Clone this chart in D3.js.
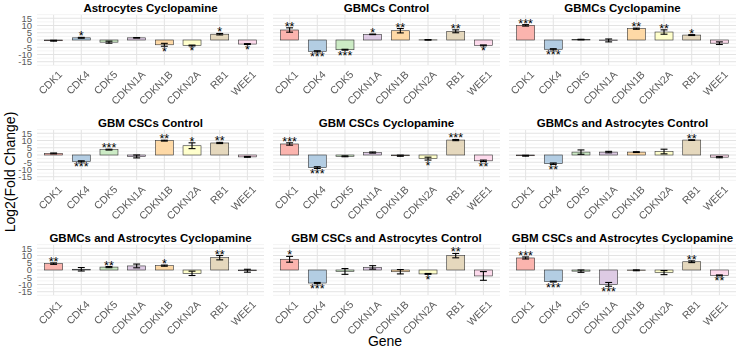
<!DOCTYPE html>
<html>
<head>
<meta charset="utf-8">
<script src="https://cdn.jsdelivr.net/npm/d3@7"></script>
<style>
  body { margin: 0; background: #fff; }
  text { font-family: "Liberation Sans", Arial, sans-serif; }
  .xlab { filter: grayscale(1); }
</style>
</head>
<body>
<div id="chart"></div>
<script>
const genes = ["CDK1", "CDK4", "CDK5", "CDKN1A", "CDKN1B", "CDKN2A", "RB1", "WEE1"];

const panelTitles = [
  "Astrocytes Cyclopamine", "GBMCs Control", "GBMCs Cyclopamine",
  "GBM CSCs Control", "GBM CSCs Cyclopamine", "GBMCs and Astrocytes Control",
  "GBMCs and Astrocytes Cyclopamine", "GBM CSCs and Astrocytes Control", "GBM CSCs and Astrocytes Cyclopamine"
];

// mean log2 fold change per panel, in gene order
const meanValues = [
  [-0.5, 1.5, -1.5, 1.5, -3.3, -3.8, 4.0, -2.8],
  [6.9, -7.8, -6.7, 3.9, 6.4, 0.1, 6.0, -3.7],
  [10.1, -6.4, 0.3, -0.3, 7.8, 5.5, 3.4, -2.2],
  [1.1, -4.4, 3.7, -1.0, 9.9, 6.4, 8.3, -1.3],
  [7.6, -8.7, -0.9, 1.7, -0.5, -2.5, 10.3, -4.0],
  [-0.5, -6.0, 2.0, 2.0, 2.0, 2.4, 10.3, -1.5],
  [4.4, 0.5, 2.0, 2.8, 3.0, -2.3, 8.5, -0.5],
  [7.4, -9.0, -1.0, 1.8, -1.2, -2.7, 9.9, -4.1],
  [8.3, -8.0, -0.8, -9.9, -0.2, -1.8, 5.7, -3.7]
];

// standard error per panel, in gene order
const errValues = [
  [0.3, 0.3, 0.7, 0.2, 1.0, 0.3, 0.5, 0.3],
  [1.5, 0.4, 0.3, 0.2, 1.5, 0.2, 1.0, 0.3],
  [0.5, 0.4, 0.2, 1.0, 0.4, 1.5, 0.3, 0.9],
  [0.3, 0.4, 0.3, 1.0, 0.3, 2.0, 0.4, 0.3],
  [0.8, 0.6, 0.3, 0.4, 0.4, 1.0, 0.4, 0.5],
  [0.3, 0.5, 1.5, 0.5, 0.3, 1.6, 0.2, 0.4],
  [0.5, 1.2, 0.4, 1.3, 0.4, 1.5, 1.5, 1.0],
  [2.0, 0.4, 2.0, 1.2, 1.5, 0.3, 1.5, 3.0],
  [0.7, 0.3, 0.8, 1.3, 0.3, 1.4, 0.6, 0.3]
];

const signifLabels = [
  ["", "*", "", "", "*", "*", "*", "*"],
  ["**", "***", "***", "*", "**", "", "**", "*"],
  ["***", "***", "", "", "**", "**", "*", ""],
  ["", "***", "***", "", "**", "*", "**", ""],
  ["***", "***", "", "", "", "*", "***", "**"],
  ["", "**", "", "", "", "", "**", ""],
  ["**", "", "**", "", "*", "", "**", ""],
  ["*", "***", "", "", "", "*", "**", ""],
  ["***", "***", "", "***", "", "", "**", "**"]
];

const yTicks = [-15, -10, -5, 0, 5, 10, 15];
const yMinorTicks = [-17.5, -12.5, -7.5, -2.5, 2.5, 7.5, 12.5, 17.5];

const palette = ["#FBB4AE", "#B3CDE3", "#CCEBC5", "#DECBE4", "#FED9A6", "#FFFFCC", "#E5D8BD", "#FDDAEC"];

const W = 750, H = 349;
const colLeft = [37, 273, 509], panelW = 227;
const rowTop = [15, 130, 245], panelH = 50;

const svg = d3.select("#chart").append("svg")
  .attr("width", W)
  .attr("height", H);

const x = d3.scalePoint().domain(genes).range([0, panelW]).padding(0.6);
const y = d3.scaleLinear().domain([-17.25, 17.25]).range([panelH, 0]);
const color = d3.scaleOrdinal().domain(genes).range(palette);
const barW = x.step() * 0.65, capW = x.step() * 0.25;

panelTitles.forEach(function (title, i) {
  const col = i % 3, row = Math.floor(i / 3);
  const g = svg.append("g")
    .attr("transform", "translate(" + colLeft[col] + "," + rowTop[row] + ")");

  const data = genes.map(function (gn, j) {
    return {gene: gn, mean: meanValues[i][j], err: errValues[i][j], sig: signifLabels[i][j]};
  });

  // grid
  g.selectAll(".minor").data(yMinorTicks).enter().append("line")
    .attr("x1", 0).attr("x2", panelW)
    .attr("y1", d => y(d)).attr("y2", d => y(d))
    .attr("stroke", "#ededed").attr("stroke-width", 0.6);
  g.selectAll(".major").data(yTicks).enter().append("line")
    .attr("x1", 0).attr("x2", panelW)
    .attr("y1", d => y(d)).attr("y2", d => y(d))
    .attr("stroke", "#e3e3e3").attr("stroke-width", 1);
  g.selectAll(".vgrid").data(genes).enter().append("line")
    .attr("x1", d => x(d)).attr("x2", d => x(d))
    .attr("y1", 0).attr("y2", panelH)
    .attr("stroke", "#e3e3e3").attr("stroke-width", 1);

  // bars
  g.selectAll(".bar").data(data).enter().append("rect")
    .attr("x", d => x(d.gene) - barW / 2)
    .attr("width", barW)
    .attr("y", d => y(Math.max(0, d.mean)))
    .attr("height", d => Math.abs(y(d.mean) - y(0)))
    .attr("fill", d => color(d.gene))
    .attr("stroke", "#333")
    .attr("stroke-width", 0.6);

  // error bars
  const eb = g.selectAll(".eb").data(data).enter().append("g")
    .attr("stroke", "#000").attr("stroke-width", 1.1);
  eb.append("line")
    .attr("x1", d => x(d.gene)).attr("x2", d => x(d.gene))
    .attr("y1", d => y(d.mean - d.err)).attr("y2", d => y(d.mean + d.err));
  eb.append("line")
    .attr("x1", d => x(d.gene) - capW / 2).attr("x2", d => x(d.gene) + capW / 2)
    .attr("y1", d => y(d.mean + d.err)).attr("y2", d => y(d.mean + d.err));
  eb.append("line")
    .attr("x1", d => x(d.gene) - capW / 2).attr("x2", d => x(d.gene) + capW / 2)
    .attr("y1", d => y(d.mean - d.err)).attr("y2", d => y(d.mean - d.err));

  // significance stars
  g.selectAll(".sig").data(data.filter(d => d.sig)).enter().append("text")
    .attr("x", d => x(d.gene))
    .attr("y", d => d.mean >= 0 ? y(d.mean + d.err) + 3 : y(d.mean - d.err) + 9.5)
    .attr("text-anchor", "middle")
    .attr("font-size", "12.5px")
    .attr("fill", "#000")
    .text(d => d.sig);

  // title
  g.append("text")
    .attr("x", panelW / 2)
    .attr("y", -3)
    .attr("text-anchor", "middle")
    .attr("font-size", "11.5px")
    .attr("font-weight", "bold")
    .attr("fill", "#000")
    .text(title);

  // x axis labels
  g.append("g")
    .attr("class", "xlab")
    .selectAll("text").data(genes).enter().append("text")
    .attr("transform", d => "translate(" + (x(d) + 4) + "," + (panelH + 5) + ") rotate(-45)")
    .attr("text-anchor", "end")
    .attr("dy", "0.7em")
    .attr("font-size", "10.5px")
    .attr("fill", "#5a5a5a")
    .text(d => d);

  // y axis labels only on first column
  if (col === 0) {
    g.selectAll(".yl").data(yTicks).enter().append("text")
      .attr("x", -5)
      .attr("y", d => y(d))
      .attr("dy", "0.35em")
      .attr("text-anchor", "end")
      .attr("font-size", "9.5px")
      .attr("fill", "#5a5a5a")
      .text(d => d);
  }
});

svg.append("text")
  .attr("x", 385)
  .attr("y", 346)
  .attr("text-anchor", "middle")
  .attr("font-size", "14px")
  .attr("fill", "#000")
  .text("Gene");

svg.append("text")
  .attr("transform", "translate(15,172) rotate(-90)")
  .attr("text-anchor", "middle")
  .attr("font-size", "14px")
  .attr("fill", "#000")
  .text("Log2(Fold Change)");
</script>
</body>
</html>
